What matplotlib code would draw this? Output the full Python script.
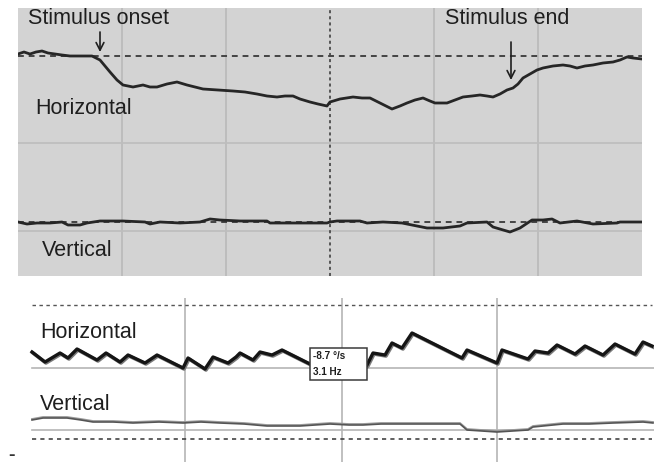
import matplotlib
matplotlib.use("Agg")
import matplotlib.pyplot as plt
from matplotlib.patches import Rectangle
import numpy as np

plt.rcParams['font.family'] = ['Liberation Sans', 'DejaVu Sans']

# ---- upper recording: samples (x) and position (y, 0 = baseline) ----
top_h_t = [0, 6, 12, 18, 24, 30, 37, 44, 52, 74, 82, 92, 99, 105, 115, 125, 132, 139,
           149, 159, 169, 177, 185, 200, 215, 227, 239, 249, 259, 267, 275, 282, 292,
           300, 309, 312, 322, 335, 344, 352, 362, 374, 382, 389, 397, 405, 412, 417,
           429, 437, 445, 454, 462, 469, 475, 482, 489, 495, 500, 505, 512, 519, 525,
           535, 545, 552, 559, 567, 575, 585, 595, 602, 609, 615, 624]
top_h_pos = [2, 4, 2, 4, 5, 3, 2, 1, 0, 0, -4, -16, -24, -29, -31, -29, -31, -31,
             -28, -26, -29, -31, -33, -34, -35, -36, -38, -40, -41, -40, -40, -43, -46,
             -48, -50, -46, -43, -41, -42, -42, -47, -53, -50, -47, -44, -42, -45, -47,
             -47, -44, -41, -40, -39, -40, -41, -38, -34, -32, -28, -22, -18, -14, -12,
             -10, -9, -10, -12, -10, -9, -7, -6, -4, -1, -2, -3]

top_v_t = [0, 9, 19, 32, 44, 50, 62, 69, 82, 105, 127, 132, 142, 162, 182, 192, 202,
           222, 249, 252, 309, 312, 319, 342, 349, 365, 384, 399, 409, 425, 442, 449,
           469, 475, 492, 502, 514, 525, 534, 542, 559, 575, 599, 602, 624]
top_v_pos = [0, -2, -1, -1, 0, -3, -3, -1, 1, 1, 0, -2, 0, -1, 0, 3, 2,
             1, 1, -1, -1, 0, 1, 1, -1, 0, -1, -4, -6, -6, -4, -1,
             0, -5, -10, -6, 2, 2, 3, -1, 1, -2, -1, 0, 0]

onset_t, end_t = 82, 493

# ---- lower recording ----
bot_h_t = [3, 16, 31, 39, 48, 68, 77, 91, 99, 116, 128, 154, 159, 176, 184, 199, 207,
           211, 224, 231, 243, 253, 281, 296, 301, 337, 338, 344, 356, 363, 373, 383,
           433, 438, 468, 473, 499, 506, 519, 528, 546, 556, 574, 586, 606, 614, 623]
bot_h_pos = [16, 6, 15, 10, 19, 8, 15, 6, 13, 5, 13, 0, 10, -1, 11, 5, 11,
             15, 8, 16, 13, 18, 4, 1, 14, 2, 3, 15, 13, 25, 20, 35,
             10, 18, 5, 18, 9, 17, 15, 23, 14, 22, 13, 24, 14, 26, 22]

bot_v_t = [3, 14, 38, 52, 64, 84, 104, 130, 154, 172, 191, 215, 238, 271, 301, 320,
           334, 352, 368, 400, 431, 438, 468, 499, 504, 534, 560, 584, 614, 624]
bot_v_pos = [10, 12, 12, 10, 8, 8, 7, 8, 7, 8, 7, 6, 4, 4, 6, 5,
             5, 6, 6, 6, 6, 0, -2, 0, 3, 6, 6, 7, 8, 7]

readout = ["-8.7 \u00b0/s", "3.1 Hz"]

W, H = 657, 462
fig = plt.figure(figsize=(W / 100, H / 100), dpi=100)
fig.patch.set_facecolor("white")

def px_axes(x0, y0, x1, y1):
    return fig.add_axes([x0 / W, 1 - y1 / H, (x1 - x0) / W, (y1 - y0) / H])

ink = "#1e1e1e"
arrow = "->,head_length=0.55,head_width=0.28"

# upper panel
ax = px_axes(18, 8, 642, 276)
ax.set_facecolor("#d3d3d3")
ax.set_xlim(0, 624)
ax.set_ylim(-220, 48)
for x in [104, 208, 416, 520]:
    ax.axvline(x, color="#b9b9b9", lw=1.2, zorder=1)
ax.axvline(312, color="#333333", lw=1.1, ls=(0, (2, 2)), zorder=2)
for y in [-87, -175]:
    ax.axhline(y, color="#bdbdbd", lw=1.2, zorder=1)
v_off = -166
ax.axhline(0, color="#444444", lw=1.4, ls=(0, (3, 2.5)), zorder=2)
ax.axhline(v_off, color="#444444", lw=1.4, ls=(0, (3, 2.5)), zorder=2)
ax.plot(top_h_t, top_h_pos, color="#262626", lw=2.0, zorder=3)
ax.plot(top_v_t, np.array(top_v_pos) + v_off, color="#262626", lw=2.0, zorder=3)
ax.text(10, 38, "Stimulus onset", fontsize=15.5, va="center", ha="left", color=ink)
ax.text(427, 38, "Stimulus end", fontsize=15.5, va="center", ha="left", color=ink)
ax.annotate("", xy=(onset_t, 4), xytext=(onset_t, 24),
            arrowprops=dict(arrowstyle=arrow, color=ink, lw=1.2, shrinkA=0, shrinkB=0))
ax.annotate("", xy=(end_t, -24), xytext=(end_t, 14),
            arrowprops=dict(arrowstyle=arrow, color=ink, lw=1.2, shrinkA=0, shrinkB=0))
ax.text(17, -52, "Horizontal", fontsize=15.5, va="center", ha="left", color=ink)
ax.text(24, -194, "Vertical", fontsize=15.5, va="center", ha="left", color=ink)
ax.set_xticks([]); ax.set_yticks([])
for s in ax.spines.values():
    s.set_visible(False)

# lower panel
bx = px_axes(29, 298, 654, 462)
bx.set_facecolor("white")
bx.set_xlim(0, 625)
bx.set_ylim(0, 164)
for x in [156, 313, 468]:
    bx.axvline(x, color="#b5b5b5", lw=1.2, zorder=1)
h_off, vv_off = 94, 32
bx.axhline(h_off, xmin=3 / 625, color="#b5b5b5", lw=1.2, zorder=1)
bx.axhline(vv_off, xmin=3 / 625, color="#b5b5b5", lw=1.2, zorder=1)
bx.axhline(157, xmin=3 / 625, xmax=623 / 625, color="#555555", lw=1.0, ls=(0, (2.5, 2.5)), zorder=2)
bx.axhline(23, xmin=3 / 625, xmax=623 / 625, color="#444444", lw=1.2, ls=(0, (2.5, 2.5)), zorder=2)
hp = np.array(bot_h_pos) + h_off
bx.plot(np.array(bot_h_t) + 1, hp - 1, color="#7a7a7a", lw=2.6, zorder=3)
bx.plot(bot_h_t, hp, color="#151515", lw=2.4, zorder=4)
vp = np.array(bot_v_pos) + vv_off
bx.plot(bot_v_t, vp + 1, color="#9a9a9a", lw=1.3, zorder=3)
bx.plot(bot_v_t, vp, color="#555555", lw=1.2, zorder=4)
bx.text(11, 130, "Horizontal", fontsize=15.5, va="center", ha="left", color=ink)
bx.text(11, 57, "Vertical", fontsize=15.5, va="center", ha="left", color=ink)

# readout box
bx.add_patch(Rectangle((281, 82), 57, 32, fc="white", ec="#3a3a3a", lw=1.1, zorder=6))
bx.text(284, 106, readout[0], fontsize=7.2, va="center", ha="left", color=ink,
        fontweight="bold", zorder=7)
bx.text(284, 90, readout[1], fontsize=7.2, va="center", ha="left", color=ink,
        fontweight="bold", zorder=7)
bx.set_xticks([]); bx.set_yticks([])
for s in bx.spines.values():
    s.set_visible(False)

fig.text(8 / W, 1 - 455 / H, "-", fontsize=14, fontweight="bold", color="#333333", va="center")

fig.savefig("out.png", dpi=100, facecolor="white")
